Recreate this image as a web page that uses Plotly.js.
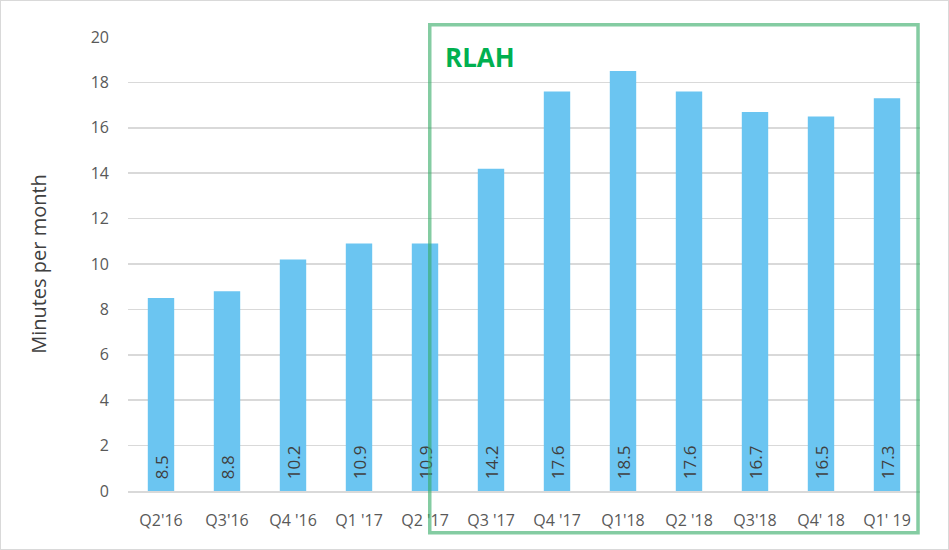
<!DOCTYPE html>
<html><head><meta charset="utf-8">
<script src="https://cdn.plot.ly/plotly-3.0.1.min.js"></script>
<style>
html,body{margin:0;padding:0;background:#fff;}
#chart{width:947px;height:548px;border:1px solid #d9d9d9;}
</style></head>
<body><div id="chart"></div>
<script>
const categories = ["Q2'16","Q3'16","Q4 '16","Q1 '17","Q2 '17","Q3 '17","Q4 '17","Q1'18","Q2 '18","Q3'18","Q4' 18","Q1' 19"];
const minutes = [8.5, 8.8, 10.2, 10.9, 10.9, 14.2, 17.6, 18.5, 17.6, 16.7, 16.5, 17.3];
const labels = minutes.map(v => '\u00a0\u00a0' + v.toFixed(1));

const FONT = "Open Sans, Noto Sans, sans-serif";
const trace = {
  type: 'bar', x: categories, y: minutes, text: labels,
  textposition: 'inside', insidetextanchor: 'start', textangle: -90,
  constraintext: 'none',
  textfont: {family: FONT, size: 17, color: '#404040'},
  marker: {color: '#6bc5f1'},
  cliponaxis: false, hoverinfo: 'none'
};
const layout = {
  width: 947, height: 548,
  margin: {l: 127, r: 28, t: 36, b: 58},
  paper_bgcolor: '#fff', plot_bgcolor: '#fff',
  bargap: 0.6, showlegend: false,
  font: {family: FONT, color: '#595959', size: 16},
  xaxis: {
    type: 'category', showline: true, linecolor: '#d9d9d9', linewidth: 2,
    ticks: '', ticklabelstandoff: 14, tickfont: {size: 16, color: '#595959'},
    showgrid: false
  },
  yaxis: {
    range: [0, 20], dtick: 2, showgrid: true, gridcolor: '#d9d9d9', gridwidth: 1.5,
    zeroline: false, ticks: '', ticklabelstandoff: 18,
    tickfont: {size: 16, color: '#595959'},
    title: {text: 'Minutes per month', font: {size: 20, color: '#404040'}, standoff: 38}
  },
  shapes: [{
    type: 'rect', xref: 'paper', yref: 'paper',
    x0: 0.381, x1: 0.9975, y0: -0.092, y1: 1.027,
    line: {color: 'rgba(50,170,100,0.6)', width: 3.5}, fillcolor: 'rgba(0,0,0,0)'
  }],
  annotations: [{
    xref: 'paper', yref: 'paper', x: 0.398, y: 0.955, xanchor: 'left', yanchor: 'middle',
    text: '<b>RLAH</b>', showarrow: false,
    font: {family: FONT, size: 26, color: '#00b050'}
  }]
};
Plotly.newPlot('chart', [trace], layout, {displayModeBar: false, staticPlot: true});
</script></body></html>
